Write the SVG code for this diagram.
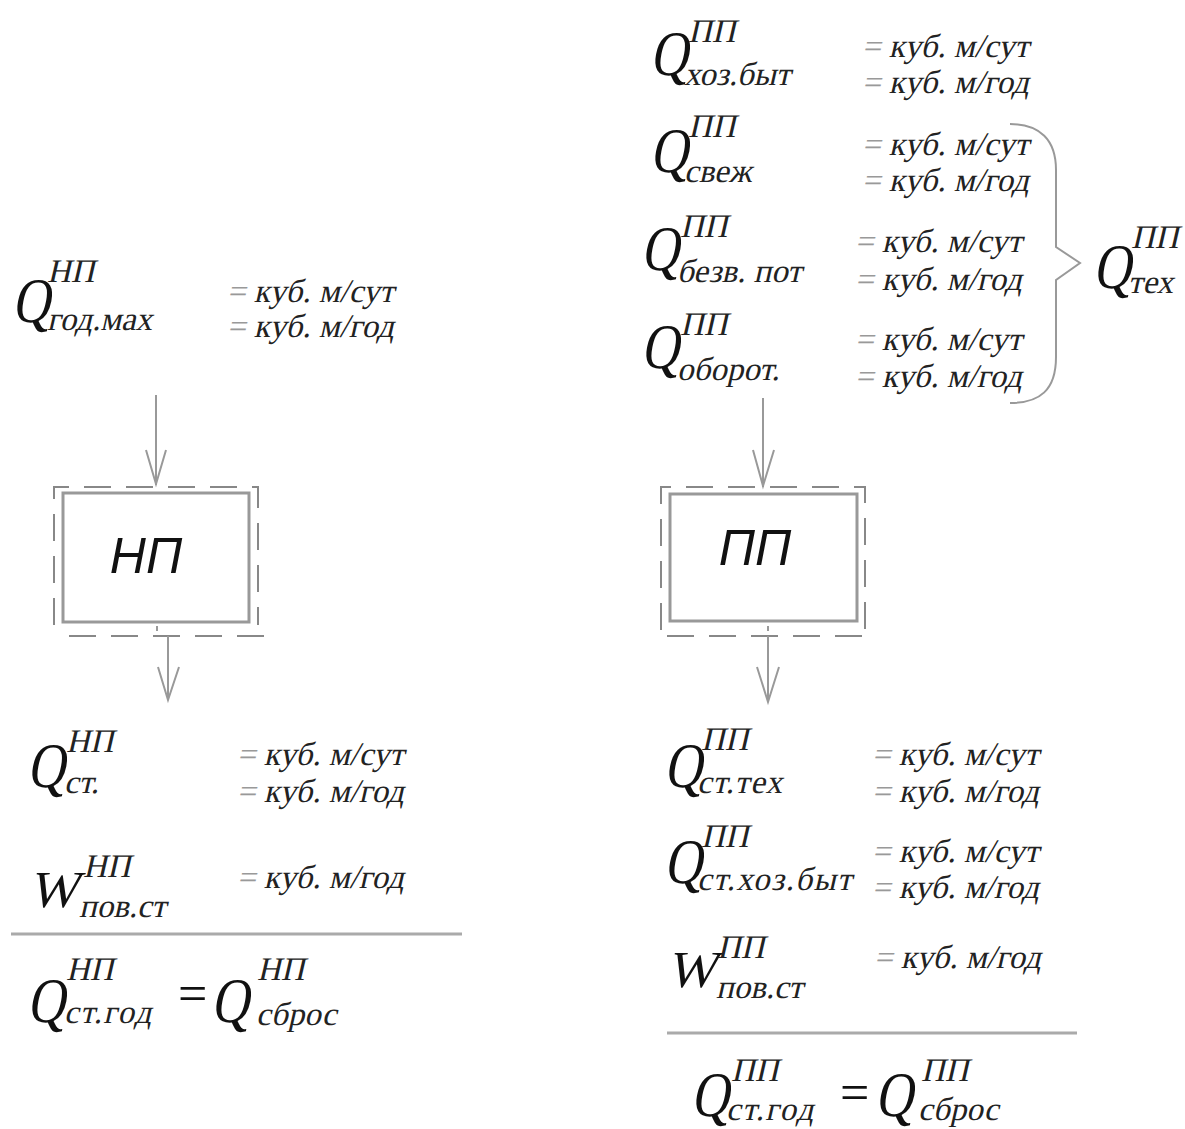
<svg xmlns="http://www.w3.org/2000/svg" width="1185" height="1129" viewBox="0 0 1185 1129">
<style>
text{font-family:"Liberation Serif","Times New Roman",serif;fill:#222}
.Q{font-size:52px;fill:#111}
.s{font-size:33px}
.v{font-size:33px}
.eq{fill:#999}
.box{font-family:"Liberation Sans",Arial,sans-serif;font-size:50px;text-anchor:middle;fill:#111;font-style:italic}
.ln{stroke:#999;stroke-width:2;fill:none}
.rule{stroke:#aaa;stroke-width:3;fill:none}
.inner{stroke:#999;stroke-width:3;fill:#fff}
.dash{stroke:#888;stroke-width:2;fill:none;stroke-dasharray:27 15}
</style>
<rect width="1185" height="1129" fill="#fff"/>

<g id="np-input">
<text class="Q" transform="translate(12,322) scale(1,1.22) skewX(-13)">Q</text>
<text class="s" transform="translate(47,282) skewX(-13)">НП</text>
<text class="s" transform="translate(47,330) skewX(-13)">год.мах</text>
<text class="v" transform="translate(227,302) skewX(-13)"><tspan class="eq">=</tspan> куб. м/сут</text>
<text class="v" transform="translate(227,337) skewX(-13)"><tspan class="eq">=</tspan> куб. м/год</text>
</g>

<g id="np-node">
<path class="dash" d="M54,625 V487 H258 V625"/>
<path class="dash" d="M69,636 H270 V631"/>
<rect class="inner" x="63" y="493" width="186" height="129"/>
<text class="box" x="146" y="573">НП</text>
</g>

<g id="np-output">
<text class="Q" transform="translate(27,787) scale(1,1.22) skewX(-13)">Q</text>
<text class="s" transform="translate(66,752) skewX(-13)">НП</text>
<text class="s" transform="translate(64,793) skewX(-13)">ст.</text>
<text class="v" transform="translate(237,765) skewX(-13)"><tspan class="eq">=</tspan> куб. м/сут</text>
<text class="v" transform="translate(237,802) skewX(-13)"><tspan class="eq">=</tspan> куб. м/год</text>
<text class="Q" transform="translate(29,907) skewX(-13)">W</text>
<text class="s" transform="translate(83,877) skewX(-13)">НП</text>
<text class="s" transform="translate(79,917) skewX(-13)">пов.ст</text>
<text class="v" transform="translate(237,888) skewX(-13)"><tspan class="eq">=</tspan> куб. м/год</text>
<line class="rule" x1="11" y1="934" x2="462" y2="934"/>
<text class="Q" transform="translate(27,1022) scale(1,1.22) skewX(-13)">Q</text>
<text class="s" transform="translate(66,980) skewX(-13)">НП</text>
<text class="s" transform="translate(64,1023) skewX(-13)" letter-spacing="1.5">ст.год</text>
<text class="Q" transform="translate(178,1011)">=</text>
<text class="Q" transform="translate(211,1022) scale(1,1.22) skewX(-13)">Q</text>
<text class="s" transform="translate(257,980) skewX(-13)">НП</text>
<text class="s" transform="translate(256,1025) skewX(-13)">сброс</text>
</g>

<g id="pp-inputs">
<text class="Q" transform="translate(650,75) scale(1,1.22) skewX(-13)">Q</text>
<text class="s" transform="translate(688,42) skewX(-13)">ПП</text>
<text class="s" transform="translate(684,85) skewX(-13)">хоз.быт</text>
<text class="v" transform="translate(862,57) skewX(-13)"><tspan class="eq">=</tspan> куб. м/сут</text>
<text class="v" transform="translate(862,93) skewX(-13)"><tspan class="eq">=</tspan> куб. м/год</text>

<text class="Q" transform="translate(650,172) scale(1,1.22) skewX(-13)">Q</text>
<text class="s" transform="translate(688,137) skewX(-13)">ПП</text>
<text class="s" transform="translate(684,182) skewX(-13)">свеж</text>
<text class="v" transform="translate(862,155) skewX(-13)"><tspan class="eq">=</tspan> куб. м/сут</text>
<text class="v" transform="translate(862,191) skewX(-13)"><tspan class="eq">=</tspan> куб. м/год</text>

<text class="Q" transform="translate(641,270) scale(1,1.22) skewX(-13)">Q</text>
<text class="s" transform="translate(680,237) skewX(-13)">ПП</text>
<text class="s" transform="translate(677,282) skewX(-13)">безв. пот</text>
<text class="v" transform="translate(855,252) skewX(-13)"><tspan class="eq">=</tspan> куб. м/сут</text>
<text class="v" transform="translate(855,290) skewX(-13)"><tspan class="eq">=</tspan> куб. м/год</text>

<text class="Q" transform="translate(641,368) scale(1,1.22) skewX(-13)">Q</text>
<text class="s" transform="translate(680,335) skewX(-13)">ПП</text>
<text class="s" transform="translate(677,380) skewX(-13)">оборот.</text>
<text class="v" transform="translate(855,350) skewX(-13)"><tspan class="eq">=</tspan> куб. м/сут</text>
<text class="v" transform="translate(855,387) skewX(-13)"><tspan class="eq">=</tspan> куб. м/год</text>

<path class="ln" d="M1010,124 C1040,124 1056,140 1056,170 V247 L1080,263 L1056,280 V357 C1056,390 1040,403 1010,403"/>
<text class="Q" transform="translate(1093,288) scale(1,1.22) skewX(-13)">Q</text>
<text class="s" transform="translate(1131,248) skewX(-13)">ПП</text>
<text class="s" transform="translate(1128,293) skewX(-13)">тех</text>
</g>

<g id="pp-node">
<path class="dash" d="M661,630 V487 H865 V630"/>
<path class="dash" d="M667,636 H869 V631"/>
<rect class="inner" x="670" y="494" width="187" height="127"/>
<text class="box" x="755" y="565">ПП</text>
</g>

<g id="pp-output">
<text class="Q" transform="translate(664,787) scale(1,1.22) skewX(-13)">Q</text>
<text class="s" transform="translate(701,750) skewX(-13)">ПП</text>
<text class="s" transform="translate(697,793) skewX(-13)" letter-spacing="1">ст.тех</text>
<text class="v" transform="translate(872,765) skewX(-13)"><tspan class="eq">=</tspan> куб. м/сут</text>
<text class="v" transform="translate(872,802) skewX(-13)"><tspan class="eq">=</tspan> куб. м/год</text>

<text class="Q" transform="translate(664,883) scale(1,1.22) skewX(-13)">Q</text>
<text class="s" transform="translate(701,847) skewX(-13)">ПП</text>
<text class="s" transform="translate(697,890) skewX(-13)" letter-spacing="1.5">ст.хоз.быт</text>
<text class="v" transform="translate(872,862) skewX(-13)"><tspan class="eq">=</tspan> куб. м/сут</text>
<text class="v" transform="translate(872,898) skewX(-13)"><tspan class="eq">=</tspan> куб. м/год</text>

<text class="Q" transform="translate(667,987) skewX(-13)">W</text>
<text class="s" transform="translate(717,958) skewX(-13)">ПП</text>
<text class="s" transform="translate(716,998) skewX(-13)">пов.ст</text>
<text class="v" transform="translate(874,968) skewX(-13)"><tspan class="eq">=</tspan> куб. м/год</text>

<line class="rule" x1="667" y1="1033" x2="1077" y2="1033"/>
<text class="Q" transform="translate(691,1116) scale(1,1.22) skewX(-13)">Q</text>
<text class="s" transform="translate(731,1081) skewX(-13)">ПП</text>
<text class="s" transform="translate(726,1120) skewX(-13)" letter-spacing="1.5">ст.год</text>
<text class="Q" transform="translate(840,1110)">=</text>
<text class="Q" transform="translate(875,1116) scale(1,1.22) skewX(-13)">Q</text>
<text class="s" transform="translate(921,1081) skewX(-13)">ПП</text>
<text class="s" transform="translate(918,1120) skewX(-13)">сброс</text>
</g>

<g id="connectors">
<line class="ln" x1="156" y1="395" x2="156" y2="485"/>
<polyline class="ln" points="146,450 156,484 166,450"/>
<line class="ln" x1="157" y1="626" x2="157" y2="631"/>
<line class="ln" x1="168" y1="636" x2="168" y2="700"/>
<polyline class="ln" points="158,667 168,700 179,667"/>

<line class="ln" x1="763" y1="398" x2="763" y2="487"/>
<polyline class="ln" points="753,450 763,486 774,450"/>
<line class="ln" x1="768" y1="626" x2="768" y2="631"/>
<line class="ln" x1="768" y1="636" x2="768" y2="702"/>
<polyline class="ln" points="757,667 768,702 779,667"/>
</g>
</svg>
